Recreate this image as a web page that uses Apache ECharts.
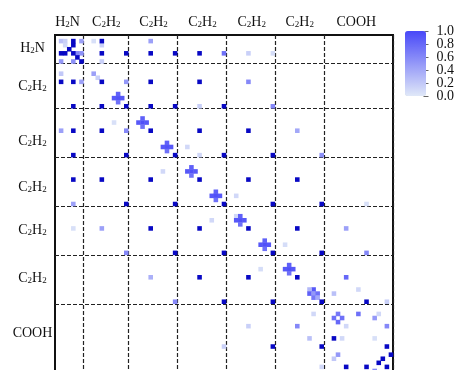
<!DOCTYPE html>
<html>
<head>
<meta charset="utf-8">
<script src="https://cdn.jsdelivr.net/npm/echarts@6/dist/echarts.min.js"></script>
<style>
  html, body { margin: 0; padding: 0; background: #fff; overflow: hidden; }
  #chart { width: 457px; height: 380px; }
</style>
</head>
<body>
<div id="chart"></div>
<script>
// basis function count along both axes
const nBasis = 83;
// first index of each group after the first one (dashed separators)
const groupStarts = [7, 18, 30, 42, 54, 66];
const groupNames = ['H2N', 'C2H2', 'C2H2', 'C2H2', 'C2H2', 'C2H2', 'COOH'];
const topLabelAt = [3.1, 12.6, 24.2, 36.2, 48.3, 60.1, 74.0];
const leftLabelAt = [3.1, 12.3, 25.9, 37.2, 47.7, 59.5, 73.0];
const scaleTicks = [0, 0.2, 0.4, 0.6, 0.8, 1.0];

// saturated (> 1) cells, [col, row]
const strongCells = [
  [11, 1], [4, 1], [4, 2], [3, 3], [5, 5], [6, 6],
  [1, 4], [2, 4], [4, 4], [11, 4], [17, 4], [23, 4], [29, 4], [35, 4],
  [1, 11], [4, 11], [11, 11], [23, 11], [35, 11],
  [4, 17], [11, 17], [17, 17], [23, 17], [29, 17], [41, 17],
  [4, 23], [11, 23], [23, 23], [35, 23], [47, 23],
  [4, 29], [17, 29], [29, 29], [41, 29], [53, 29],
  [4, 35], [11, 35], [23, 35], [35, 35], [47, 35], [59, 35],
  [17, 41], [29, 41], [41, 41], [53, 41], [65, 41],
  [23, 47], [35, 47], [47, 47], [59, 47],
  [29, 53], [41, 53], [53, 53], [65, 53],
  [35, 59], [47, 59], [59, 59],
  [41, 65], [53, 65], [65, 65], [76, 65],
  [68, 74], [53, 76], [65, 76], [81, 76],
  [82, 78], [80, 79], [79, 80], [81, 81], [71, 81], [76, 81]
];

// scaled cells, [col, row, value]
const shadeCells = [
  [1, 1, 0.25], [2, 1, 0.15], [2, 2, 0.1], [23, 1, 0.45], [11, 2, 0.15], [9, 1, 0.05], [6, 1, 0.45],
  [5, 4, 0.6], [6, 4, 0.55], [41, 4, 0.75], [47, 4, 0.15], [53, 4, 0.07],
  [1, 6, 0.5], [4, 6, 0.55], [11, 6, 0.15],
  [1, 9, 0.2], [9, 9, 0.45], [10, 10, 0.15],
  [6, 11, 0.45], [17, 11, 0.5], [47, 11, 0.6],
  [15, 15, 0.95], [14, 15, 0.9], [16, 15, 0.9], [15, 14, 0.85], [15, 16, 0.75],
  [35, 17, 0.15], [53, 17, 0.6],
  [21, 21, 0.95], [20, 21, 0.9], [22, 21, 0.9], [21, 20, 0.85], [21, 22, 0.75], [14, 21, 0.05],
  [1, 23, 0.45], [17, 23, 0.6], [59, 23, 0.4],
  [27, 27, 0.95], [26, 27, 0.9], [28, 27, 0.9], [27, 26, 0.85], [27, 28, 0.75], [32, 27, 0.1],
  [35, 29, 0.1], [65, 29, 0.55], [26, 33, 0.1],
  [33, 33, 0.95], [32, 33, 0.9], [34, 33, 0.9], [33, 32, 0.85], [33, 34, 0.75],
  [39, 39, 0.95], [38, 39, 0.9], [40, 39, 0.9], [39, 38, 0.85], [39, 40, 0.75], [44, 39, 0.1],
  [4, 41, 0.45], [76, 41, 0.05],
  [38, 45, 0.1], [44, 44, 0.1],
  [45, 45, 0.95], [44, 45, 0.9], [46, 45, 0.9], [45, 44, 0.85], [45, 46, 0.75],
  [4, 47, 0.05], [11, 47, 0.45], [71, 47, 0.45],
  [51, 51, 0.95], [50, 51, 0.9], [52, 51, 0.9], [51, 50, 0.85], [51, 52, 0.75], [56, 51, 0.07],
  [17, 53, 0.6], [76, 53, 0.6],
  [57, 57, 0.95], [56, 57, 0.9], [58, 57, 0.9], [57, 56, 0.85], [57, 58, 0.75], [50, 57, 0.07],
  [23, 59, 0.35], [71, 59, 0.8],
  [74, 62, 0.1], [68, 63, 0.25],
  [63, 62, 0.9], [62, 62, 0.3], [62, 63, 0.85], [63, 63, 0.5], [64, 63, 0.75], [63, 64, 0.7], [64, 64, 0.4],
  [29, 65, 0.6], [81, 65, 0.15],
  [63, 68, 0.1], [69, 68, 0.7], [68, 69, 0.75], [70, 69, 0.75], [69, 70, 0.8],
  [74, 68, 0.75], [78, 69, 0.5], [79, 68, 0.1],
  [47, 71, 0.15], [59, 71, 0.6], [71, 71, 0.1], [81, 71, 0.6],
  [62, 74, 0.25], [70, 74, 0.1], [78, 74, 0.05],
  [41, 76, 0.15],
  [69, 78, 0.5], [68, 79, 0.2], [65, 81, 0.1], [78, 82, 0.6]
];

const serif = 'Liberation Serif';
const indices = Array.from({ length: nBasis }, (_, i) => String(i));
// colour bar labels split in two sets so that none of them gets dropped as overlapping
const scaleTicksA = scaleTicks.filter((_, i) => i % 2 === 0);
const scaleTicksB = scaleTicks.filter((_, i) => i % 2 === 1);

function richName(name) {
  if (name === 'H2N') return '{m|H}{s|2}{m|N}';
  if (name === 'C2H2') return '{m|C}{s|2}{m|H}{s|2}';
  return '{m|' + name + '}';
}
function labelFor(positions) {
  return function (v) {
    for (let i = 0; i < positions.length; i++) {
      if (Math.abs(positions[i] - v) < 1e-6) return richName(groupNames[i]);
    }
    return '';
  };
}
const rich = {
  m: { fontFamily: serif, fontSize: 14, lineHeight: 16, color: '#111', verticalAlign: 'bottom' },
  s: { fontFamily: serif, fontSize: 9, lineHeight: 9, color: '#111', verticalAlign: 'bottom' }
};
const dash = { color: '#222', width: 1.2, type: [4, 2] };

function scaleAxis(values) {
  return {
    type: 'value', gridIndex: 1, position: 'right', min: 0, max: 1,
    axisLine: { show: false }, splitLine: { show: false },
    axisTick: { show: true, length: 5, customValues: values, lineStyle: { color: '#666' } },
    axisLabel: {
      margin: 13, fontFamily: serif, fontSize: 14, color: '#111',
      showMinLabel: true, showMaxLabel: true, hideOverlap: false,
      customValues: values,
      formatter: (v) => v.toFixed(1)
    }
  };
}

const chart = echarts.init(document.getElementById('chart'));
chart.setOption({
  animation: false,
  backgroundColor: '#fff',
  grid: [
    { left: 55, top: 35, width: 338, height: 338, show: true, borderColor: '#111', borderWidth: 2, backgroundColor: 'transparent' },
    { left: 405, top: 31, width: 21, height: 65, show: false }
  ],
  xAxis: [
    {
      type: 'category', data: indices, position: 'top', gridIndex: 0,
      axisLine: { show: false }, axisTick: { show: false }, axisLabel: { show: false },
      splitLine: { show: true, interval: (i) => groupStarts.indexOf(i) >= 0, lineStyle: dash }
    },
    {
      type: 'value', gridIndex: 0, position: 'top', min: 0, max: nBasis,
      axisLine: { show: false }, axisTick: { show: false }, splitLine: { show: false },
      axisLabel: { customValues: topLabelAt, formatter: labelFor(topLabelAt), rich: rich, margin: 6 }
    },
    { type: 'category', gridIndex: 1, data: [''], show: false }
  ],
  yAxis: [
    {
      type: 'category', data: indices, inverse: true, gridIndex: 0,
      axisLine: { show: false }, axisTick: { show: false }, axisLabel: { show: false },
      splitLine: { show: true, interval: (i) => groupStarts.indexOf(i) >= 0, lineStyle: dash }
    },
    {
      type: 'value', gridIndex: 0, position: 'left', inverse: true, min: 0, max: nBasis,
      axisLine: { show: false }, axisTick: { show: false }, splitLine: { show: false },
      axisLabel: { customValues: leftLabelAt, formatter: labelFor(leftLabelAt), rich: rich, margin: 22.5, align: 'center' }
    },
    scaleAxis(scaleTicksA),
    scaleAxis(scaleTicksB)
  ],
  visualMap: {
    type: 'continuous', seriesIndex: 0, min: 0, max: 1, calculable: false,
    orient: 'vertical', left: 405, top: 31, itemWidth: 21, itemHeight: 65, padding: 0,
    inRange: { color: ['#e0e8f8', '#4848f8'] }
  },
  series: [
    {
      name: 'shade', type: 'heatmap', xAxisIndex: 0, yAxisIndex: 0,
      data: shadeCells, itemStyle: { borderWidth: 0 }
    },
    {
      name: 'strong', type: 'heatmap', xAxisIndex: 0, yAxisIndex: 0,
      data: strongCells.map((c) => [c[0], c[1], 1]),
      itemStyle: { color: '#0808c4', borderWidth: 0 }
    }
  ]
});
</script>
</body>
</html>
